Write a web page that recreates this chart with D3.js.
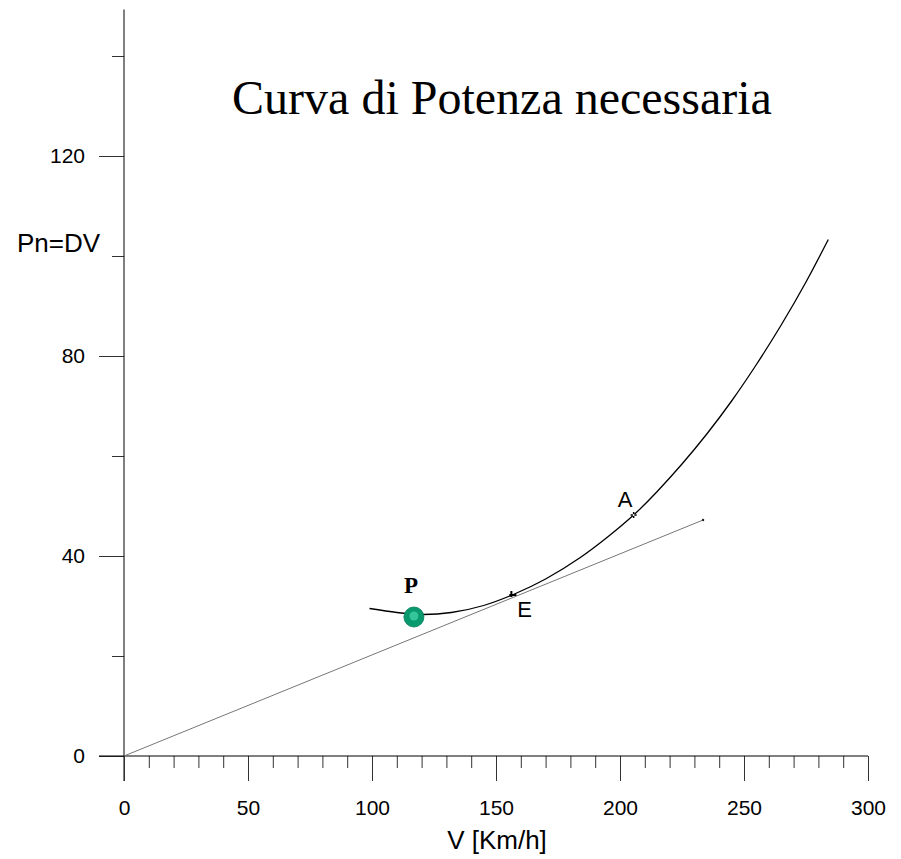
<!DOCTYPE html>
<html><head><meta charset="utf-8">
<script src="https://cdn.jsdelivr.net/npm/d3@7"></script>
<style>body{margin:0;background:#fff}svg{display:block}</style>
</head><body>
<script>
// Data
const curveV = [99, 110, 120, 132, 145, 157, 170, 184, 195, 205.5, 215, 225, 235, 245, 255, 265, 275, 284];
const curveP = [29.5, 28.7, 28.3, 28.7, 30.1, 32.3, 35.4, 39.7, 43.8, 48.2, 52.9, 58.4, 64.4, 71.0, 78.3, 86.2, 94.8, 103.3];
const tangentV = [0, 233.5];
const tangentP = [0, 47.2];
const pointP = {label: "P", v: 116.9, p: 27.8};
const pointE = {label: "E", v: 157, p: 32.2};
const pointA = {label: "A", v: 205.5, p: 48.2};
const xMajorTicks = [0, 50, 100, 150, 200, 250, 300];
const xMinorTicks = [10, 20, 30, 40, 60, 70, 80, 90, 110, 120, 130, 140, 160, 170, 180, 190, 210, 220, 230, 240, 260, 270, 280, 290];
const yMajorTicks = [0, 40, 80, 120];
const yMinorTicks = [20, 60, 100, 140];
const title = "Curva di Potenza necessaria";
const xTitle = "V [Km/h]";
const yTitle = "Pn=DV";

const W = 901, H = 859;
const svg = d3.select("body").append("svg").attr("width", W).attr("height", H);
const x = d3.scaleLinear().domain([0, 300]).range([124, 868]);
const y = d3.scaleLinear().domain([0, 120]).range([756, 156]);
const sans = "Liberation Sans, Arial, sans-serif";
const serif = "Liberation Serif, Times New Roman, serif";

// y axis
svg.append("g").attr("transform", `translate(${x(0)},0)`)
  .call(d3.axisLeft(y).tickValues(yMinorTicks).tickSize(12).tickFormat(""))
  .call(g => g.select(".domain").remove());
svg.append("g").attr("class", "major").attr("transform", `translate(${x(0)},0)`)
  .call(d3.axisLeft(y).tickValues(yMajorTicks).tickSize(25).tickPadding(14).tickFormat(d3.format("d")))
  .call(g => g.select(".domain").remove());
svg.append("line").attr("x1", x(0)).attr("x2", x(0)).attr("y1", y(149.3)).attr("y2", 781).attr("stroke", "#000");

// x axis
svg.append("g").attr("transform", `translate(0,${y(0)})`)
  .call(d3.axisBottom(x).tickValues(xMinorTicks).tickSize(12).tickFormat(""))
  .call(g => g.select(".domain").remove());
svg.append("g").attr("class", "major").attr("transform", `translate(0,${y(0)})`)
  .call(d3.axisBottom(x).tickValues(xMajorTicks).tickSize(25).tickPadding(19).tickFormat(d3.format("d")))
  .call(g => g.select(".domain").remove());
svg.append("line").attr("x1", 99).attr("x2", x(300)).attr("y1", y(0)).attr("y2", y(0)).attr("stroke", "#000");

svg.selectAll(".tick line").attr("stroke", "#333");
svg.selectAll(".tick text").attr("font-family", sans).attr("font-size", 21).attr("fill", "#000");

// titles
svg.append("text").attr("x", 502).attr("y", 114).attr("text-anchor", "middle")
  .attr("font-family", serif).attr("font-size", 48).text(title);
svg.append("text").attr("x", 497).attr("y", 849).attr("text-anchor", "middle")
  .attr("font-family", sans).attr("font-size", 26).text(xTitle);
svg.append("text").attr("x", 17).attr("y", 252)
  .attr("font-family", sans).attr("font-size", 26).text(yTitle);

// tangent line
const tangent = tangentV.map((v, i) => [v, tangentP[i]]);
svg.append("path").datum(tangent)
  .attr("d", d3.line().x(d => x(d[0])).y(d => y(d[1])))
  .attr("fill", "none").attr("stroke", "#777").attr("stroke-width", 1);
svg.append("circle").attr("cx", x(tangentV[1])).attr("cy", y(tangentP[1])).attr("r", 1.2).attr("fill", "#222");

// power curve
const pts = curveV.map((v, i) => [v, curveP[i]]);
svg.append("path").datum(pts)
  .attr("d", d3.line().curve(d3.curveNatural).x(d => x(d[0])).y(d => y(d[1])))
  .attr("fill", "none").attr("stroke", "#000").attr("stroke-width", 1.3);

// E marker
const ex = x(pointE.v), ey = y(pointE.p);
svg.append("path").attr("d", `M${ex-4},${ey}H${ex+3}M${ex-2},${ey-4}V${ey+2}`).attr("stroke", "#000").attr("stroke-width", 2);
svg.append("text").attr("x", ex + 4).attr("y", ey + 22)
  .attr("font-family", sans).attr("font-size", 22).text(pointE.label);

// A marker
const ax = x(pointA.v), ay = y(pointA.p);
svg.append("path").attr("d", `M${ax-3},${ay}H${ax+3}M${ax},${ay-3}V${ay+3}`).attr("stroke", "#000").attr("stroke-width", 1.5);
svg.append("circle").attr("cx", ax).attr("cy", ay).attr("r", 1).attr("fill", "#fff");
svg.append("text").attr("x", ax - 16).attr("y", ay - 8)
  .attr("font-family", sans).attr("font-size", 22).text(pointA.label);

// P marker
const px = x(pointP.v), py = y(pointP.p);
svg.append("circle").attr("cx", px).attr("cy", py).attr("r", 10).attr("fill", "#08996f").attr("stroke", "#067a58").attr("stroke-width", 0.8);
svg.append("circle").attr("cx", px).attr("cy", py - 1).attr("r", 4.5).attr("fill", "#34c698");
svg.append("text").attr("x", px - 10).attr("y", py - 24)
  .attr("font-family", serif).attr("font-weight", "bold").attr("font-size", 23).text(pointP.label);
</script>
</body></html>
